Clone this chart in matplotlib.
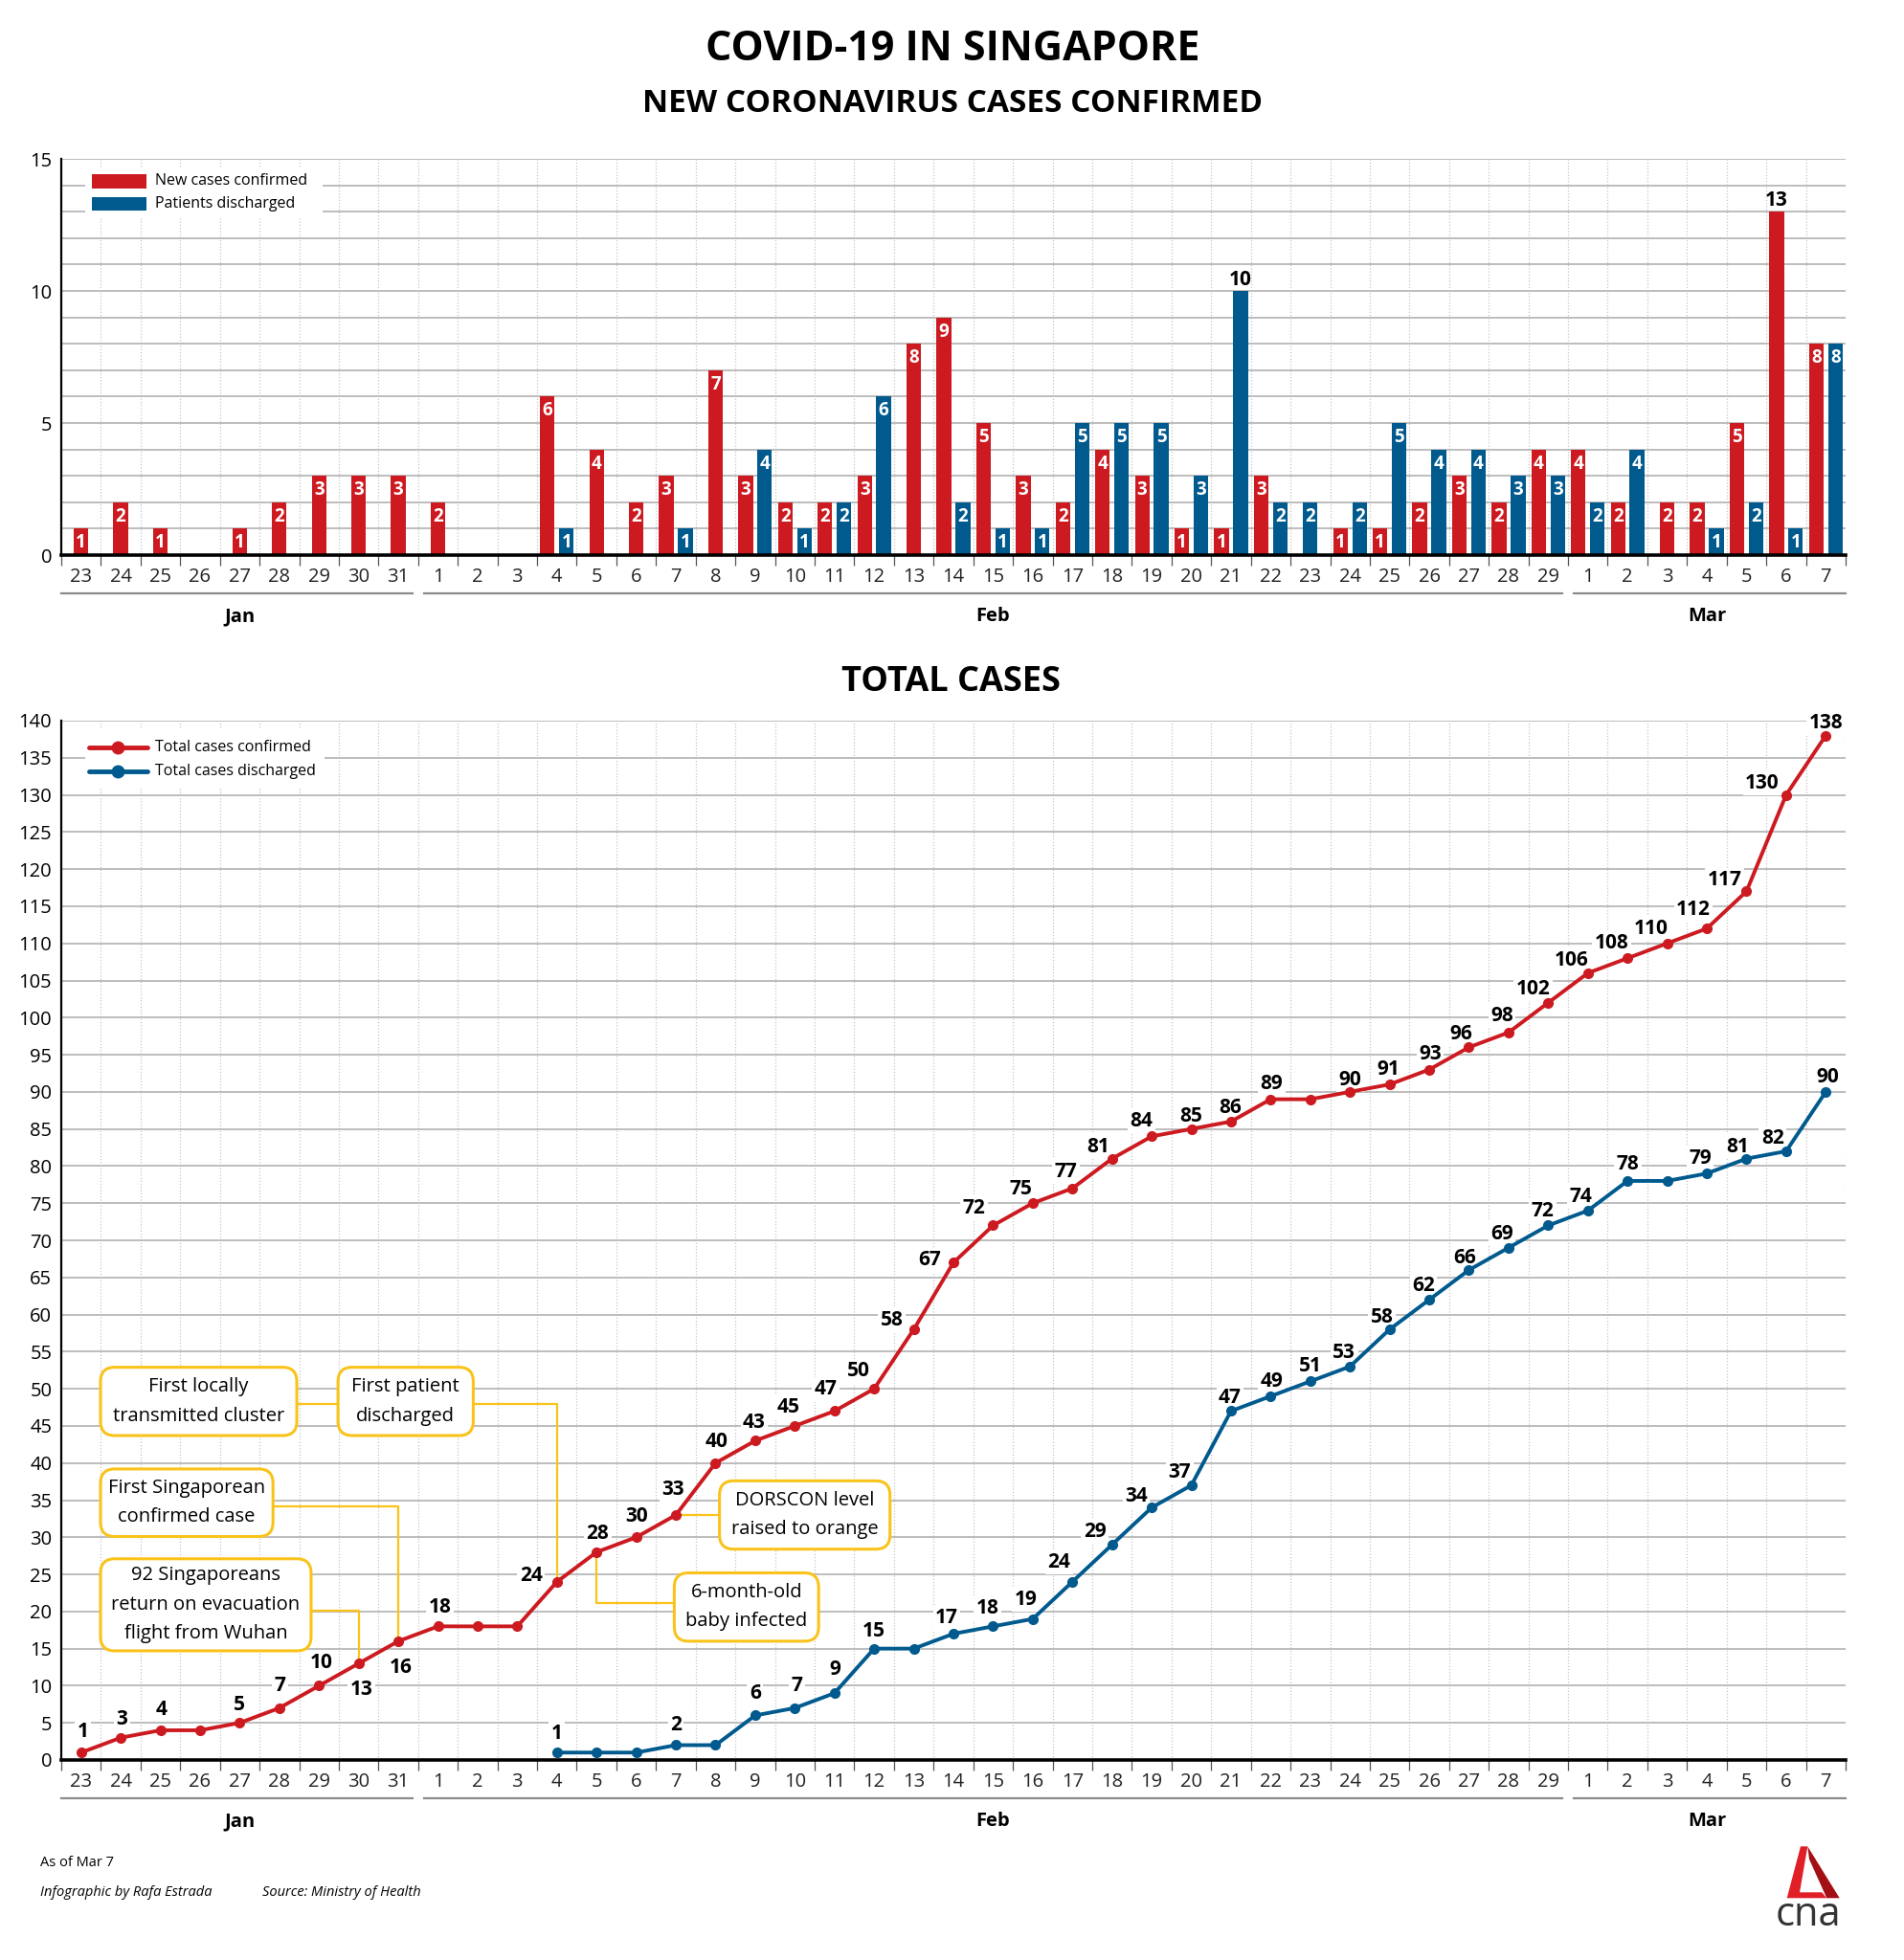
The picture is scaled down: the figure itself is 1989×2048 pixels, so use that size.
import numpy as np
import matplotlib
matplotlib.use("Agg")
import matplotlib.pyplot as plt
from matplotlib import transforms
from matplotlib.patches import Rectangle, FancyBboxPatch, Polygon

plt.rcParams['font.family'] = ['Open Sans', 'DejaVu Sans']

jan_days = list(range(23, 32))
feb_days = list(range(1, 30))
mar_days = list(range(1, 8))
months = ["Jan", "Feb", "Mar"]
day_labels = [str(d) for d in jan_days + feb_days + mar_days]

new_cases = [1, 2, 1, 0, 1, 2, 3, 3, 3,
             2, 0, 0, 6, 4, 2, 3, 7, 3, 2, 2, 3, 8, 9, 5, 3, 2, 4, 3, 1, 1,
             3, 0, 1, 1, 2, 3, 2, 4,
             4, 2, 2, 2, 5, 13, 8]
discharged = [0, 0, 0, 0, 0, 0, 0, 0, 0,
              0, 0, 0, 1, 0, 0, 1, 0, 4, 1, 2, 6, 0, 2, 1, 1, 5, 5, 5, 3, 10,
              2, 2, 2, 5, 4, 4, 3, 3,
              2, 4, 0, 1, 2, 1, 8]

total_confirmed = [1, 3, 4, 4, 5, 7, 10, 13, 16,
                   18, 18, 18, 24, 28, 30, 33, 40, 43, 45, 47, 50, 58, 67, 72, 75,
                   77, 81, 84, 85, 86, 89, 89, 90, 91, 93, 96, 98, 102,
                   106, 108, 110, 112, 117, 130, 138]
# discharged total starts on Feb 4
total_discharged = [1, 1, 1, 2, 2, 6, 7, 9, 15, 15, 17, 18, 19, 24, 29, 34, 37,
                    47, 49, 51, 53, 58, 62, 66, 69, 72,
                    74, 78, 78, 79, 81, 82, 90]

red_hidden = [3, 10, 11, 31]
blue_hidden = [13, 14, 16, 21, 40]

notes = ["First locally\ntransmitted cluster",
         "First patient\ndischarged",
         "First Singaporean\nconfirmed case",
         "92 Singaporeans\nreturn on evacuation\nflight from Wuhan",
         "DORSCON level\nraised to orange",
         "6-month-old\nbaby infected"]

# ---------------- layout / style ----------------
RED = '#cc1a20'
BLUE = '#005a8e'
YELLOW = '#f9c31a'
GRID = '#b8b8b8'
DOT = '#c6c6c6'

W, H, DPI = 1990, 2048, 100
X0, X1 = 64, 1928

# label offsets in pixels (dx, dy) relative to the point
red_off = {0: (2, 24), 1: (1, 22), 2: (1, 24), 4: (0, 21), 5: (1, 26), 6: (2, 26),
           7: (3, -25), 8: (3, -25), 9: (2, 22), 12: (-27, 9), 13: (1, 22),
           14: (0, 24), 15: (-3, 29), 16: (1, 25), 17: (-1, 21), 18: (-7, 22),
           19: (-9, 25), 20: (-16, 21), 21: (-23, 12), 22: (-25, 5), 23: (-20, 20),
           24: (-12, 17), 25: (-7, 20), 26: (-15, 15), 27: (-11, 18), 28: (0, 16),
           29: (-1, 17), 30: (1, 19), 32: (0, 15), 33: (-1, 18), 34: (1, 19),
           35: (-8, 16), 36: (-7, 20), 37: (-16, 17), 38: (-17, 16), 39: (-17, 18),
           40: (-17, 18), 41: (-14, 22), 42: (-23, 14), 43: (-25, 15), 44: (0, 16)}
blue_off = {12: (0, 22), 15: (0, 23), 17: (0, 25), 18: (2, 26), 19: (1, 27),
            20: (0, 21), 22: (-7, 19), 23: (-6, 21), 24: (-7, 23), 25: (-14, 23),
            26: (-18, 16), 27: (-16, 14), 28: (-12, 16), 29: (-1, 16), 30: (1, 18),
            31: (0, 18), 32: (-6, 17), 33: (-8, 15), 34: (-6, 17), 35: (-4, 15),
            36: (-7, 17), 37: (-6, 17), 38: (-7, 17), 39: (0, 20), 41: (-7, 18),
            42: (-9, 15), 43: (-14, 16), 44: (2, 18)}

fig = plt.figure(figsize=(W / DPI, H / DPI), dpi=DPI)
ax1 = fig.add_axes([X0 / W, 1 - 580 / H, (X1 - X0) / W, (580 - 166) / H])
ax2 = fig.add_axes([X0 / W, 1 - 1839 / H, (X1 - X0) / W, (1839 - 753) / H])
over = fig.add_axes([0, 0, 1, 1])
over.set_xlim(0, W)
over.set_ylim(H, 0)
over.axis('off')

n = len(day_labels)
x = np.arange(n)


def off(dx, dy):
    return transforms.ScaledTranslation(dx / DPI, dy / DPI, fig.dpi_scale_trans)


def frame(ax, ymax, ystep, gridstep):
    ax.set_xlim(-0.5, n - 0.5)
    ax.set_ylim(0, ymax)
    for yv in np.arange(gridstep, ymax + 0.01, gridstep):
        ax.axhline(yv, color=GRID, lw=1.3, zorder=0.5)
    for b in np.arange(0.5, n, 1):
        ax.axvline(b, color=DOT, lw=0.9, ls=(0, (1, 1.6)), zorder=0.4)
    for s in ['top', 'right']:
        ax.spines[s].set_visible(False)
    ax.spines['left'].set_linewidth(1.6)
    ax.spines['bottom'].set_linewidth(2.6)
    for s in ['left', 'bottom']:
        ax.spines[s].set_zorder(6)
    ax.set_xticks(np.arange(-0.5, n, 1))
    ax.set_xticklabels([])
    ax.tick_params(axis='x', length=8, width=0.9, color='#555555')
    ax.set_yticks(np.arange(0, ymax + 0.01, ystep))
    ax.tick_params(axis='y', length=0, pad=7, labelsize=14.5)

    blend = transforms.blended_transform_factory(ax.transData, ax.transAxes)
    for i, lab in enumerate(day_labels):
        ax.text(i, 0, lab, transform=blend + off(0, -28), ha='center',
                va='baseline', fontsize=14.5, color='#222222')
    # month brackets
    start = -0.5
    for name, days in zip(months, [jan_days, feb_days, mar_days]):
        end = start + len(days)
        a = start + (0.15 if start > -0.5 else 0)
        b = end - (0.15 if end < n - 0.5 else 0)
        ax.plot([a, b], [0, 0], transform=blend + off(0, -40), color='#8a8a8a',
                lw=1.6, clip_on=False)
        ax.text((start + end) / 2, 0, name, transform=blend + off(0, -69),
                ha='center', va='baseline', fontsize=14.5, fontweight='bold')
        start = end


# ---------------- new cases (bars) ----------------
frame(ax1, 15, 5, 1)
both = [r > 0 and b > 0 for r, b in zip(new_cases, discharged)]
rx = [i - 0.24 if bo else i for i, bo in enumerate(both)]
bx = [i + 0.24 if bo else i for i, bo in enumerate(both)]
ax1.bar(rx, new_cases, width=0.37, color=RED, lw=0, zorder=2)
ax1.bar(bx, discharged, width=0.37, color=BLUE, lw=0, zorder=2)
for xs, vals in [(rx, new_cases), (bx, discharged)]:
    for xi, v in zip(xs, vals):
        if v == 0:
            continue
        if v >= 10:
            ax1.annotate(str(v), (xi, v), xytext=(0, 6), textcoords='offset pixels',
                         ha='center', va='baseline', fontsize=15, fontweight='bold',
                         zorder=4)
        else:
            ax1.annotate(str(v), (xi, v), xytext=(0, -20), textcoords='offset pixels',
                         ha='center', va='baseline', fontsize=13.5, fontweight='bold',
                         color='white', zorder=4)

ax1.add_patch(Rectangle((0.1, 12.75), 6.0, 1.9, fc='white', ec='none', zorder=1))
ax1.add_patch(Rectangle((0.27, 13.88), 1.38, 0.54, fc=RED, ec='none', zorder=2))
ax1.add_patch(Rectangle((0.27, 13.04), 1.38, 0.51, fc=BLUE, ec='none', zorder=2))
ax1.text(1.87, 14.15, "New cases confirmed", va='center', fontsize=11.5, zorder=3)
ax1.text(1.87, 13.3, "Patients discharged", va='center', fontsize=11.5, zorder=3)

# ---------------- total cases (lines) ----------------
frame(ax2, 140, 5, 5)
disc_start = len(jan_days) + 3
xd = x[disc_start:disc_start + len(total_discharged)]
ax2.plot(x, total_confirmed, color=RED, lw=2.8, marker='o', ms=7, zorder=3,
         clip_on=False)
ax2.plot(xd, total_discharged, color=BLUE, lw=2.8, marker='o', ms=7, zorder=3,
         clip_on=False)

lab_box = dict(boxstyle='square,pad=0.12', fc='white', ec='none')
for i, v in enumerate(total_confirmed):
    if i in red_hidden:
        continue
    dx, dy = red_off.get(i, (0, 20))
    ax2.annotate(str(v), (i, v), xytext=(dx, dy), textcoords='offset pixels',
                 ha='center', va='center_baseline', fontsize=15, fontweight='bold',
                 bbox=lab_box, zorder=2.5)
for i, v in zip(xd, total_discharged):
    if i in blue_hidden:
        continue
    dx, dy = blue_off.get(i, (0, 20))
    ax2.annotate(str(v), (i, v), xytext=(dx, dy), textcoords='offset pixels',
                 ha='center', va='center_baseline', fontsize=15, fontweight='bold',
                 bbox=lab_box, zorder=2.5)

# legend
ax2.add_patch(Rectangle((0.1, 131), 6.05, 8, fc='white', ec='none', zorder=1))
for yv, col, lab in [(136.4, RED, "Total cases confirmed"),
                     (133.2, BLUE, "Total cases discharged")]:
    ax2.plot([0.2, 1.67], [yv, yv], color=col, lw=3.5, solid_capstyle='round',
             zorder=2)
    ax2.plot([0.935], [yv], 'o', color=col, ms=9, zorder=2)
    ax2.text(1.87, yv, lab, va='center', fontsize=11.5, zorder=3)

# annotation boxes
px_x = (X1 - X0) / n
px_y = (1839 - 753) / 140
aspect = px_x / px_y
boxes = [(0.49, 5.44, 43.7, 52.9), (6.48, 9.89, 43.7, 52.9),
         (0.49, 4.84, 30.1, 39.2), (0.49, 5.8, 14.7, 27.1),
         (16.1, 20.4, 28.4, 37.6), (14.96, 18.6, 16.0, 25.2)]
links = [[(5.44, 47.9), (6.48, 47.9)],
         [(9.89, 47.9), (12, 47.9), (12, 24)],
         [(4.84, 34.2), (8, 34.2), (8, 16)],
         [(5.8, 20.1), (7, 20.1), (7, 13)],
         [(15, 33), (16.1, 33)],
         [(14.96, 21.2), (13, 21.2), (13, 28)]]
for pts in links:
    ax2.plot([p[0] for p in pts], [p[1] for p in pts], color=YELLOW, lw=1.6,
             zorder=1.2, solid_joinstyle='round')
for txt, (a, b, c, d) in zip(notes, boxes):
    ax2.add_patch(FancyBboxPatch((a, c), b - a, d - c,
                                 boxstyle='round,pad=0,rounding_size=0.36',
                                 mutation_aspect=aspect, fc='white', ec=YELLOW,
                                 lw=2.2, zorder=2.6, clip_on=False))
    ax2.text((a + b) / 2, (c + d) / 2, txt, ha='center', va='center',
             fontsize=14.5, linespacing=1.7, zorder=2.7)

# ---------------- titles, footer, logo ----------------
over.text(995, 63, "COVID-19 IN SINGAPORE", ha='center', va='baseline',
          fontsize=31, fontweight='bold')
over.text(995, 117, "NEW CORONAVIRUS CASES CONFIRMED", ha='center', va='baseline',
          fontsize=24, fontweight='bold')
over.text(993, 722, "TOTAL CASES", ha='center', va='baseline', fontsize=26,
          fontweight='bold')
over.text(42, 1950, "As of Mar 7", va='baseline', fontsize=10.5)
over.text(42, 1981, "Infographic by Rafa Estrada", va='baseline', fontsize=10.5,
          style='italic')
over.text(274, 1981, "Source: Ministry of Health", va='baseline', fontsize=10.5,
          style='italic')

over.add_patch(Polygon([(1888.3, 1929.3), (1921.7, 1983.3), (1908.3, 1983.3),
                        (1890, 1942.7)], closed=True, fc='#a30f14', ec='none'))
over.add_patch(Polygon([(1881, 1929.3), (1888.3, 1929.3), (1880, 1977.3),
                        (1903.3, 1977.3), (1908.3, 1983.3), (1866.7, 1983.3)],
                       closed=True, fc='#e01f26', ec='none'))
over.text(1889, 2012, "cna", ha='center', va='baseline', fontsize=30,
          color='#333333')

fig.savefig("out.png", dpi=DPI)
